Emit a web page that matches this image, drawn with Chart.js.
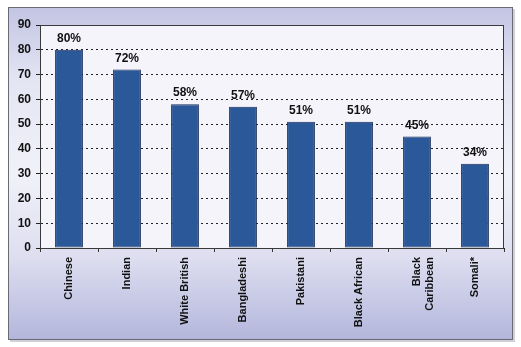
<!DOCTYPE html>
<html>
<head>
<meta charset="utf-8">
<script src="https://cdn.jsdelivr.net/npm/chart.js@4/dist/chart.umd.min.js"></script>
<style>
  body { margin: 0; background: #ffffff; }
  #wrap { width: 521px; height: 347px; }
</style>
</head>
<body>
<div id="wrap"><canvas id="chart" width="521" height="347"></canvas></div>
<script>
// data
const groups = ["Chinese", "Indian", "White British", "Bangladeshi", "Pakistani", "Black African", ["Black", "Caribbean"], "Somali*"];
const shares = [80, 72, 58, 57, 51, 51, 45, 34];
const yTicks = [0, 10, 20, 30, 40, 50, 60, 70, 80, 90];

const FONT = "'Liberation Sans', Arial, sans-serif";

// outer panel with gradient + light plot area
const framePlugin = {
  id: "frame",
  beforeDraw(chart) {
    const ctx = chart.ctx;
    const a = chart.chartArea;
    ctx.save();
    // soft shadow
    ctx.fillStyle = "#d0d0d8";
    ctx.fillRect(10, 9, 505, 333);
    let g = ctx.createLinearGradient(0, 7, 0, 340);
    g.addColorStop(0, "#c2c4e3");
    g.addColorStop(0.22, "#e4e5f3");
    g.addColorStop(0.5, "#f1f1f9");
    g.addColorStop(0.75, "#dedef0");
    g.addColorStop(1, "#b3b6dc");
    ctx.fillStyle = g;
    ctx.fillRect(8, 7, 505, 333);
    ctx.strokeStyle = "#6a6a72";
    ctx.lineWidth = 1;
    ctx.strokeRect(8.5, 7.5, 504, 332);
    // plot area
    ctx.fillStyle = "#f4f4fa";
    ctx.fillRect(a.left, a.top, a.right - a.left, a.bottom - a.top);
    ctx.restore();
  },
  afterDatasetsDraw(chart) {
    const ctx = chart.ctx;
    const a = chart.chartArea;
    ctx.save();
    // plot box
    ctx.strokeStyle = "#3a3a3a";
    ctx.lineWidth = 1;
    ctx.strokeRect(Math.round(a.left) + 0.5, Math.round(a.top) + 0.5,
      Math.round(a.right - a.left) - 1, Math.round(a.bottom - a.top));
    // value labels
    ctx.fillStyle = "#111111";
    ctx.font = "bold 12px " + FONT;
    ctx.textAlign = "center";
    ctx.textBaseline = "alphabetic";
    chart.getDatasetMeta(0).data.forEach((bar, i) => {
      ctx.fillText(shares[i] + "%", bar.x, bar.y - 8);
    });
    ctx.restore();
  }
};

new Chart(document.getElementById("chart"), {
  type: "bar",
  data: {
    labels: groups,
    datasets: [{
      data: shares,
      backgroundColor: "#2b5898",
      borderColor: "#1b2d58",
      borderWidth: 1,
      borderSkipped: false,
      barPercentage: 0.48,
      categoryPercentage: 1
    }]
  },
  options: {
    responsive: false,
    animation: false,
    layout: { padding: { left: 8, top: 25, right: 17, bottom: 0 } },
    plugins: { legend: { display: false }, tooltip: { enabled: false } },
    scales: {
      x: {
        afterFit: (s) => { s.height = 99; },
        grid: {
          drawOnChartArea: false,
          drawTicks: true,
          tickLength: 4,
          color: "#333333",
          offset: true
        },
        border: { display: true, color: "#222222" },
        ticks: {
          autoSkip: false,
          minRotation: 90,
          maxRotation: 90,
          padding: 5,
          color: "#111111",
          font: { family: FONT, size: 11, weight: "bold" }
        }
      },
      y: {
        min: 0,
        max: 90,
        afterFit: (s) => { s.width = 32; },
        afterBuildTicks: (s) => { s.ticks = yTicks.map(v => ({ value: v })); },
        grid: {
          color: (c) => (c.tick && (c.tick.value === 0 || c.tick.value === 90)) ? "rgba(0,0,0,0)" : "#222222",
          tickColor: "#222222",
          tickLength: 4,
          tickBorderDash: [],
          lineWidth: 1
        },
        border: { display: true, color: "#222222", dash: [2, 3] },
        ticks: {
          padding: 5,
          color: "#111111",
          font: { family: FONT, size: 12, weight: "bold" }
        }
      }
    }
  },
  plugins: [framePlugin]
});
</script>
</body>
</html>
